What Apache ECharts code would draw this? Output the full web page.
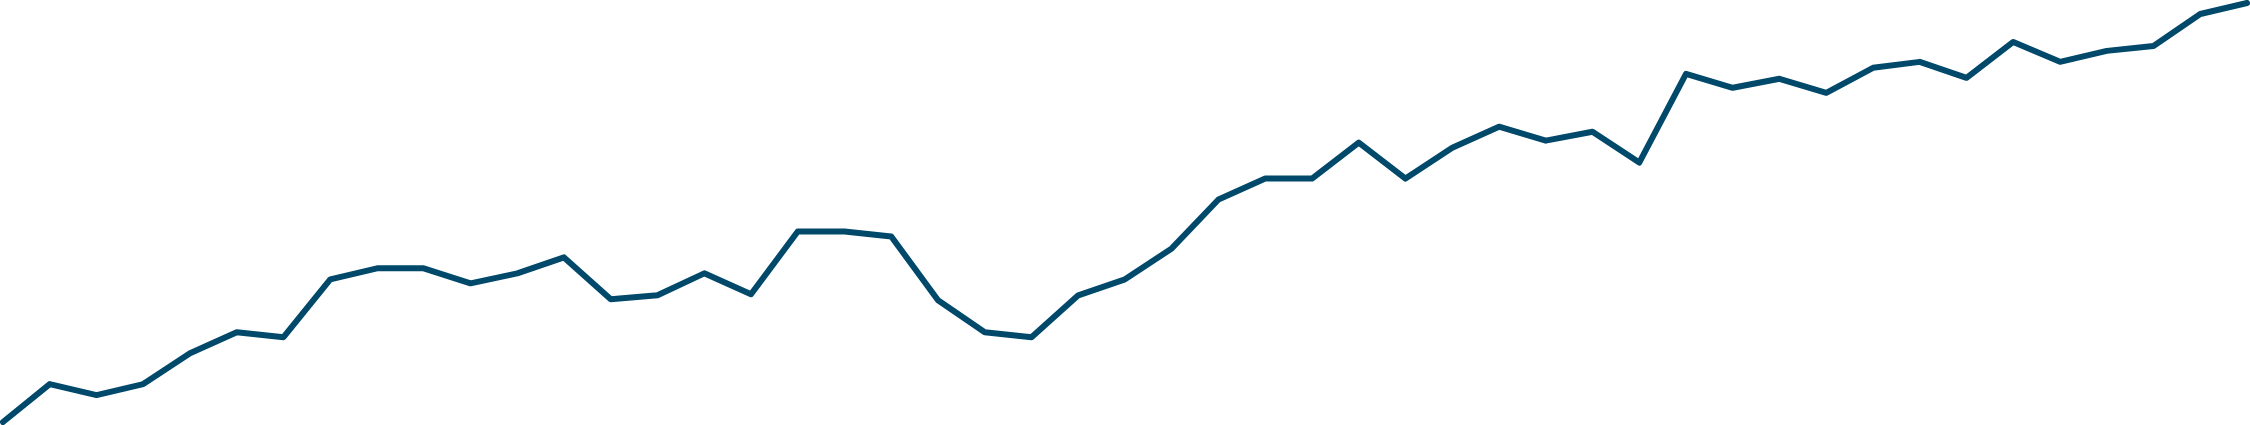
<!DOCTYPE html>
<html>
<head>
<meta charset="utf-8">
<script src="https://cdn.jsdelivr.net/npm/echarts@6/dist/echarts.min.js"></script>
<style>
  html, body { margin: 0; padding: 0; background: #fff; }
  #chart { width: 2250px; height: 425px; }
</style>
</head>
<body>
<div id="chart"></div>
<script>
// 49 evenly spaced points (0 = bottom, 420 = top)
var categories = [];
for (var i = 0; i < 49; i++) categories.push(String(i + 1));

var values = [
    0, 38, 27, 38, 69, 90, 85, 143, 154, 154,
    139, 149, 165, 123, 127, 149, 128, 191, 191, 186,
    122, 90, 85, 127, 143, 174, 223, 244, 244, 280,
    244, 275, 296, 282, 291, 260, 349, 335, 344, 330,
    355, 361, 345, 381, 361, 372, 377, 409, 420
];

var chart = echarts.init(document.getElementById('chart'));
chart.setOption({
    animation: false,
    grid: { left: 3, right: 3, top: 3, bottom: 3, containLabel: false },
    xAxis: {
        type: 'category',
        boundaryGap: false,
        data: categories,
        show: false
    },
    yAxis: {
        type: 'value',
        min: 0,
        max: 420,
        show: false
    },
    series: [{
        type: 'line',
        data: values,
        symbol: 'none',
        lineStyle: { color: '#00496b', width: 6, join: 'round', cap: 'round' }
    }]
});
</script>
</body>
</html>
